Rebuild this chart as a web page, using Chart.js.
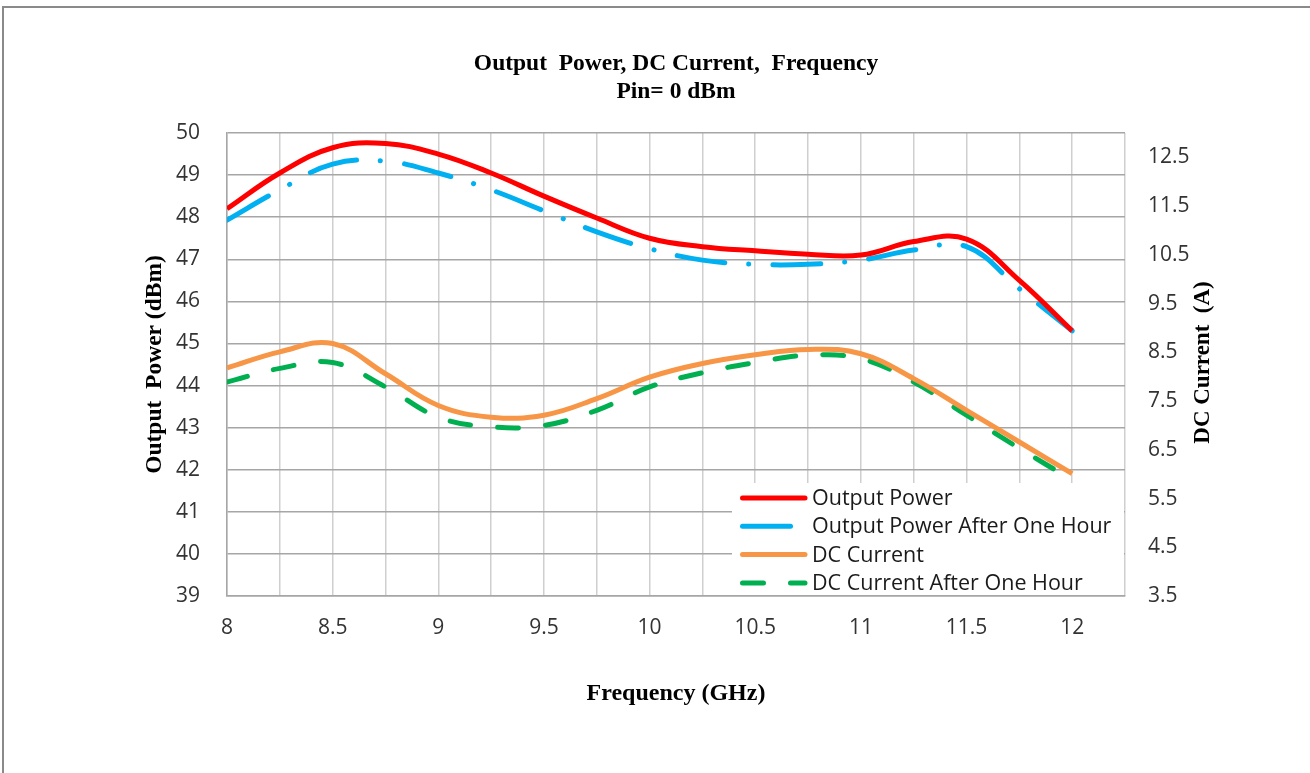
<!DOCTYPE html>
<html>
<head>
<meta charset="utf-8">
<script src="https://cdn.jsdelivr.net/npm/chart.js@4.4.1/dist/chart.umd.min.js"></script>
<style>
  html, body { margin: 0; padding: 0; background: #fff; }
  #wrap { position: relative; width: 1310px; height: 773px; overflow: hidden; }
  #frame-top { position: absolute; left: 2px; top: 6px; width: 1308px; height: 2px; background: #8a8a8a; }
  #frame-left { position: absolute; left: 2px; top: 6px; width: 2px; height: 767px; background: #8a8a8a; }
</style>
</head>
<body>
<div id="wrap">
  <canvas id="power-chart" width="1310" height="773"></canvas>
  <div id="frame-top"></div>
  <div id="frame-left"></div>
</div>
<script>
// Frequency points (GHz)
const freqs = [8, 8.25, 8.5, 8.75, 9, 9.25, 9.5, 9.75, 10, 10.25, 10.5, 10.75, 11, 11.25, 11.5, 11.75, 12]

// Output power, dBm (left axis)
const outputPower = [48.2, 49.05, 49.65, 49.75, 49.5, 49.05, 48.5, 47.98, 47.5, 47.3, 47.2, 47.12, 47.1, 47.42, 47.48, 46.5, 45.3]
const outputPowerHour = [47.93, 48.65, 49.26, 49.33, 49.05, 48.65, 48.15, 47.65, 47.25, 46.98, 46.88, 46.88, 46.98, 47.22, 47.3, 46.3, 45.3]

// DC current, A (right axis)
const dcCurrent = [8.18, 8.51, 8.68, 8.06, 7.41, 7.17, 7.21, 7.55, 7.99, 8.27, 8.45, 8.56, 8.47, 7.96, 7.31, 6.66, 6.01]
const dcCurrentHour = [7.89, 8.17, 8.29, 7.79, 7.17, 6.97, 7.0, 7.31, 7.79, 8.08, 8.29, 8.44, 8.37, 7.89, 7.21, 6.53, 5.88]

// tick labels
const xTickLabels = [8, 8.5, 9, 9.5, 10, 10.5, 11, 11.5, 12]
const rightTicks = [3.5, 4.5, 5.5, 6.5, 7.5, 8.5, 9.5, 10.5, 11.5, 12.5]

function toPoints(values) {
    return values.map((v, i) => ({x: freqs[i], y: v}))
}

const tickFont = {family: '"Open Sans", sans-serif', size: 21}
const serif = '"Liberation Serif", "Times New Roman", serif'

// legend drawn inside the plot, bottom right, on a white box
const boxLegend = {
    id: 'boxLegend',
    afterDraw(chart) {
        const ctx = chart.ctx
        const area = chart.chartArea
        const x0 = area.left + 505
        const y0 = area.bottom - 113
        ctx.save()
        ctx.fillStyle = '#ffffff'
        ctx.fillRect(x0, y0, area.right - x0 - 1, area.bottom - y0 - 1)
        ctx.font = '21.5px "Open Sans", sans-serif'
        ctx.textBaseline = 'middle'
        ctx.textAlign = 'left'
        chart.data.datasets.forEach(function(ds, i) {
            const y = y0 + 15 + i * 28.3
            ctx.strokeStyle = ds.borderColor
            ctx.lineWidth = ds.borderWidth
            ctx.lineCap = 'round'
            ctx.setLineDash(ds.borderDash || [])
            ctx.beginPath()
            ctx.moveTo(x0 + 10.5, y)
            ctx.lineTo(x0 + 73, y)
            ctx.stroke()
            ctx.setLineDash([])
            ctx.fillStyle = '#1a1a1a'
            ctx.fillText(ds.label, x0 + 80, y + 1)
        })
        ctx.restore()
    }
}

// right axis title reads bottom to top
const rightTitle = {
    id: 'rightTitle',
    afterDraw(chart) {
        const ctx = chart.ctx
        const area = chart.chartArea
        ctx.save()
        ctx.translate(area.right + 78, (area.top + area.bottom) / 2 - 2)
        ctx.rotate(-Math.PI / 2)
        ctx.font = 'bold 23px ' + serif
        ctx.fillStyle = '#000'
        ctx.textAlign = 'center'
        ctx.textBaseline = 'middle'
        ctx.fillText('DC Current  (A)', 0, 0)
        ctx.restore()
    }
}

let ctx = document.querySelector('#power-chart').getContext('2d')

let powerChart = new Chart(ctx, {
    type: 'line',
    data: {
        datasets: [
            {
                label: 'Output Power',
                data: toPoints(outputPower),
                borderColor: '#ff0000',
                borderWidth: 5,
                yAxisID: 'y'
            },
            {
                label: 'Output Power After One Hour',
                data: toPoints(outputPowerHour),
                borderColor: '#00b0f0',
                borderWidth: 5,
                borderDash: [48, 24, 0.1, 24],
                borderCapStyle: 'round',
                yAxisID: 'y'
            },
            {
                label: 'DC Current',
                data: toPoints(dcCurrent),
                borderColor: '#f79646',
                borderWidth: 5,
                yAxisID: 'y1'
            },
            {
                label: 'DC Current After One Hour',
                data: toPoints(dcCurrentHour),
                borderColor: '#00b050',
                borderWidth: 5,
                borderDash: [21, 27],
                borderCapStyle: 'round',
                yAxisID: 'y1'
            }
        ]
    },
    options: {
        responsive: false,
        animation: false,
        layout: {padding: 0},
        elements: {
            point: {radius: 0, hoverRadius: 0},
            line: {tension: 0.4, borderJoinStyle: 'round'}
        },
        plugins: {
            legend: {display: false},
            tooltip: {enabled: false},
            title: {
                display: true,
                fullSize: false,
                text: ['Output  Power, DC Current,  Frequency', 'Pin= 0 dBm'],
                font: {family: serif, size: 23.5, weight: 'bold', lineHeight: 28 / 23.5},
                color: '#000',
                padding: {top: 50, bottom: 27}
            }
        },
        scales: {
            x: {
                type: 'linear',
                min: 8,
                max: 12.25,
                ticks: {
                    stepSize: 0.25,
                    autoSkip: false,
                    maxRotation: 0,
                    padding: 19,
                    font: tickFont,
                    color: '#333',
                    callback: v => xTickLabels.includes(v) ? String(v) : ''
                },
                grid: {color: '#cfcfcf', lineWidth: 1.5, drawTicks: false},
                border: {color: '#a6a6a6', width: 1.5},
                title: {
                    display: true,
                    text: 'Frequency (GHz)',
                    font: {family: serif, size: 24, weight: 'bold'},
                    color: '#000',
                    padding: {top: 0, bottom: 65}
                },
                afterFit: s => { s.height = 177 }
            },
            y: {
                position: 'left',
                min: 39,
                max: 50,
                ticks: {stepSize: 1, padding: 27, font: tickFont, color: '#333'},
                grid: {color: '#a6a6a6', lineWidth: 1.5, drawTicks: false},
                border: {color: '#a6a6a6', width: 1.5},
                title: {
                    display: true,
                    text: 'Output  Power (dBm)',
                    font: {family: serif, size: 23.5, weight: 'bold'},
                    color: '#000',
                    padding: {top: 141, bottom: 0}
                },
                afterFit: s => { s.width = 227 }
            },
            y1: {
                position: 'right',
                min: 3.5,
                max: 13,
                afterBuildTicks: s => { s.ticks = rightTicks.map(v => ({value: v})) },
                ticks: {padding: 23, font: tickFont, color: '#333'},
                grid: {drawOnChartArea: false, drawTicks: false},
                border: {display: false},
                afterFit: s => { s.width = 185 }
            }
        }
    },
    plugins: [boxLegend, rightTitle]
})
</script>
</body>
</html>
